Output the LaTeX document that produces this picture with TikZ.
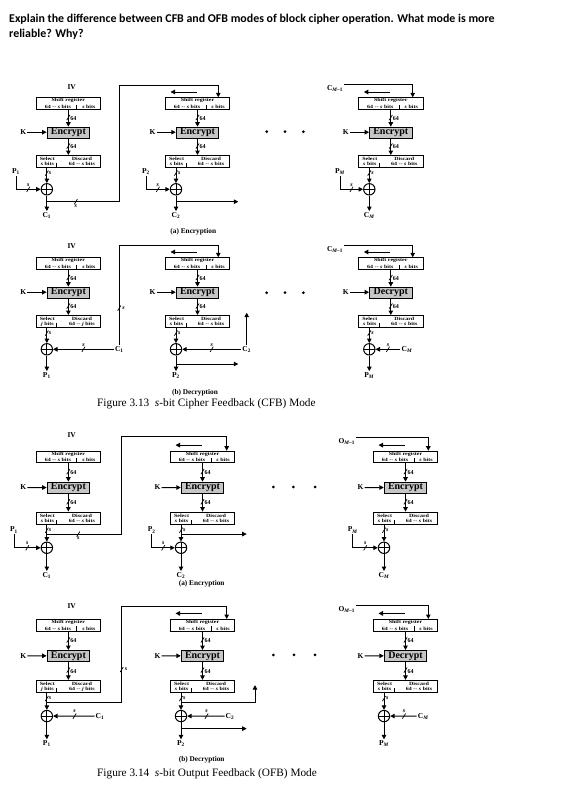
\documentclass[tikz,border=0pt]{standalone}
\usepackage{fontspec}
\setmainfont{Liberation Serif}
\newfontfamily\qfont{Carlito}
\newfontfamily\boxfont[FakeStretch=1.25]{Liberation Serif}
\usetikzlibrary{arrows.meta,positioning}

\tikzset{
  box/.style={draw, line width=1pt, anchor=north, inner sep=0pt},
  srbox/.style={box, minimum width=64.7pt, minimum height=11.7pt},
  selbox/.style={box, minimum width=64.7pt, minimum height=12.3pt},
  cipher/.style={box, fill=gray!45, minimum width=42.4pt, minimum height=11pt,
    font=\fontsize{10}{10}\selectfont\bfseries},
  boxtxt/.style={inner sep=0pt, align=center,
    font=\boxfont\bfseries\fontsize{4.8}{5.2}\selectfont},
  lab/.style={inner sep=1pt, font=\fontsize{7.5}{8}\selectfont\bfseries},
  wlab/.style={inner sep=0.6pt, font=\fontsize{6}{6}\selectfont\bfseries},
  subcap/.style={inner sep=0pt, font=\fontsize{7.3}{8}\selectfont\bfseries},
  figcap/.style={inner sep=0pt, font=\fontsize{11.3}{12}\selectfont},
  dotmark/.style={circle, fill, inner sep=0pt, minimum size=3pt},
  xor/.style={circle, draw, line width=1pt, minimum size=11.4pt, inner sep=0pt,
    path picture={\draw[line width=0.8pt]
      (path picture bounding box.north) -- (path picture bounding box.south)
      (path picture bounding box.west) -- (path picture bounding box.east);}},
  arr/.style={line width=1pt, -{Triangle[length=4.5pt,width=4.5pt]}},
  slash/.pic={\draw[line width=0.7pt,-] (-1.6,2.6) -- (1.6,-2.6);},
}

\newcommand\sublab[2]{#1\textsubscript{#2}}

% one stage: name, centre x, cipher, bit letter, output label
\newcommand\stage[5]{%
  \node[srbox] (#1-sr) at (#2,0) {};
  \draw[line width=0.6pt] ([xshift=8.3pt]#1-sr.south) -- ([xshift=8.3pt,yshift=5pt]#1-sr.south);
  \node[boxtxt] (#1-srt) at ([yshift=-3.2pt]#1-sr.north) {Shift register};
  \node[boxtxt] (#1-srl) at ([xshift=-10.5pt,yshift=3pt]#1-sr.south) {64 -- \textit{s} bits};
  \node[boxtxt] (#1-srr) at ([xshift=20.5pt,yshift=3pt]#1-sr.south) {\textit{s} bits};
  \node[cipher] (#1-enc) at (#2,29.4) {#3};
  \node[selbox] (#1-sel) at (#2,57.7) {};
  \draw[line width=0.6pt] ([xshift=-11.7pt]#1-sel.south) -- ([xshift=-11.7pt,yshift=5pt]#1-sel.south);
  \node[boxtxt] (#1-sl) at ([xshift=-21pt]#1-sel.center) {Select\\\textit{#4} bits};
  \node[boxtxt] (#1-sd) at ([xshift=13.5pt]#1-sel.center) {Discard\\64 -- \textit{#4} bits};
  \node[xor] (#1-x) at (#2-21.5,92) {};
  \node[lab] (#1-k) at (#2-45,34.9) {K};
  \node[lab] (#1-out) at (#2-21.5,118) {#5};
  \draw[arr] (#1-sr) -- (#1-enc) pic[pos=.45]{slash} node[pos=.45,wlab,anchor=west,xshift=1pt,yshift=-1pt]{64};
  \draw[arr] (#1-enc) -- (#1-sel) pic[pos=.45]{slash} node[pos=.45,wlab,anchor=west,xshift=1pt,yshift=-1pt]{64};
  \draw[arr] (#1-k) -- (#1-k -| #1-enc.west);
  \draw[arr] (#1-sel.south -| #1-x) -- (#1-x) pic[pos=.32]{slash} node[pos=.32,wlab,anchor=west,xshift=1pt]{\textit{s}};
  \draw[arr] (#1-x) -- (#1-out);
}

% arrow above a shift register
\newcommand\shiftarrow[2]{%
  \coordinate (#1-a) at (#2-1,-5.3);
  \coordinate (#1-b) at (#2-27,-5.3);
  \draw[arr] (#1-a) -- (#1-b);
}

\begin{document}
\begin{tikzpicture}[x=1pt,y=-1pt]
\useasboundingbox (0,0) rectangle (575,803);
\node[anchor=north west, align=left, inner sep=0pt,
  font=\qfont\bfseries\fontsize{11.9}{15.3}\selectfont] (question) at (9,13.5)
  {Explain the difference between CFB and OFB modes of block cipher operation. What mode is more\\reliable? Why?};

% Figure 3.13 (a)
\begin{scope}[shift={(36,97.3)}]
\stage{ea1}{32.35}{Encrypt}{s}{\sublab{C}{1}}
\stage{ea2}{161.5}{Encrypt}{s}{\sublab{C}{2}}
\stage{ea3}{354.8}{Encrypt}{s}{\sublab{C}{\textit{M}}}
\shiftarrow{ea2}{161.5}
\shiftarrow{ea3}{354.8}
\node[lab] (ea-iv) at (35.7,-10.6) {IV};
\node[lab] (ea1-in) at (-20,74.4) {\sublab{P}{1}};
\node[lab] (ea2-in) at (110,74.4) {\sublab{P}{2}};
\node[lab] (ea3-in) at (304,74.4) {\sublab{P}{\textit{M}}};
\foreach \i in {1,2,3}
  \draw[arr] (ea\i-in) |- (ea\i-x) pic[pos=.75]{slash} node[pos=.75,wlab,above=2pt]{\textit{s}};
\coordinate (ea-t1) at (10.85,104.4);
\coordinate (ea-up) at (83.3,-12.3);
\coordinate (ea2-fb) at (182.3,0);
\draw[arr] (ea-t1) -| (ea-up) pic[pos=.2]{slash} node[pos=.2,wlab,below=2pt]{\textit{s}} -| (ea2-fb);
\coordinate (ea2-t) at (140,104.4);
\coordinate (ea2-o) at (202.3,104.4);
\draw[arr] (ea2-t) -- (ea2-o);
\foreach \dx [count=\i] in {230.7,249,267.3}
  \node[dotmark] (ea-d\i) at (\dx,34.4) {};
\node[lab] (ea-cm) at (299,-9) {\sublab{C}{\textit{M}--1}};
\coordinate (ea3-fb) at (376.7,0);
\draw[arr] (ea-cm.north east) -| (ea3-fb);
\node[subcap] (ea-cap) at (157.3,134.4) {(a) Encryption};
\end{scope}

% Figure 3.13 (b)
\begin{scope}[shift={(36,257.3)}]
\stage{da1}{32.35}{Encrypt}{j}{\sublab{P}{1}}
\stage{da2}{161.5}{Encrypt}{s}{\sublab{P}{2}}
\stage{da3}{354.8}{Decrypt}{s}{\sublab{P}{\textit{M}}}
\shiftarrow{da2}{161.5}
\shiftarrow{da3}{354.8}
\node[lab] (da-iv) at (35.7,-11.3) {IV};
\node[lab] (da1-in) at (83.3,92) {\sublab{C}{1}};
\node[lab] (da2-in) at (210.7,92) {\sublab{C}{2}};
\node[lab] (da3-in) at (371,92) {\sublab{C}{\textit{M}}};
\foreach \i in {1,2,3}
  \draw[arr] (da\i-in) -- (da\i-x) pic[pos=.5]{slash} node[pos=.5,wlab,above=2pt]{\textit{s}};
\coordinate (da-up) at (83.3,-12.3);
\coordinate (da2-fb) at (182.3,0);
\draw[arr] (da1-in) -- (da-up) pic[pos=.37]{slash} node[pos=.37,wlab,right=2pt]{\textit{s}} -| (da2-fb);
\coordinate (da-c2up) at (210.7,55.4);
\draw[arr] (da2-in) -- (da-c2up);
\coordinate (da2-t) at (140,106.7);
\coordinate (da2-o) at (202.3,106.7);
\draw[arr] (da2-t) -- (da2-o);
\foreach \dx [count=\i] in {230.7,249,267.3}
  \node[dotmark] (da-d\i) at (\dx,35.4) {};
\node[lab] (da-cm) at (299,-8) {\sublab{C}{\textit{M}--1}};
\coordinate (da3-fb) at (376.7,0);
\draw[arr] (da-cm.north east) -| (da3-fb);
\node[subcap] (da-cap) at (159,135.4) {(b) Decryption};
\end{scope}
\node[figcap, anchor=west] (fig13) at (97,403.3) {Figure 3.13\enspace\textit{s}-bit Cipher Feedback (CFB) Mode};

% Figure 3.14 (a)
\begin{scope}[shift={(36,450.7)}, yscale=1.055]
\stage{eb1}{32.35}{Encrypt}{s}{\sublab{C}{1}}
\stage{eb2}{166.5}{Encrypt}{s}{\sublab{C}{2}}
\stage{eb3}{369.5}{Encrypt}{s}{\sublab{C}{\textit{M}}}
\shiftarrow{eb2}{166.5}
\shiftarrow{eb3}{369.5}
\node[lab] (eb-iv) at (35.7,-14.9) {IV};
\node[lab] (eb1-in) at (-22,75.2) {\sublab{P}{1}};
\node[lab] (eb2-in) at (115.7,75.2) {\sublab{P}{2}};
\node[lab] (eb3-in) at (316.7,75.2) {\sublab{P}{\textit{M}}};
\foreach \i in {1,2,3}
  \draw[arr] (eb\i-in) |- (eb\i-x) pic[pos=.75]{slash} node[pos=.75,wlab,above=2pt]{\textit{s}};
\coordinate (eb-t1) at (10.85,79);
\coordinate (eb-up) at (85.7,-13.3);
\coordinate (eb2-fb) at (190.7,0);
\draw[arr] (eb-t1) -| (eb-up) pic[pos=.21]{slash} node[pos=.21,wlab,below=2pt]{\textit{s}} -| (eb2-fb);
\coordinate (eb2-t) at (145,79);
\coordinate (eb2-o) at (210.7,79);
\draw[arr] (eb2-t) -- (eb2-o);
\foreach \dx [count=\i] in {237.3,257.3,279}
  \node[dotmark] (eb-d\i) at (\dx,34.4) {};
\node[lab] (eb-om) at (310.7,-8.5) {\sublab{O}{\textit{M}--1}};
\coordinate (eb3-fb) at (392.3,0);
\draw[arr] (eb-om.north east) -| (eb3-fb);
\node[subcap] (eb-cap) at (165.7,125.7) {(a) Encryption};
\end{scope}

% Figure 3.14 (b)
\begin{scope}[shift={(36,619)}, yscale=1.055]
\stage{db1}{32.35}{Encrypt}{j}{\sublab{P}{1}}
\stage{db2}{166.5}{Encrypt}{s}{\sublab{P}{2}}
\stage{db3}{369.5}{Decrypt}{s}{\sublab{P}{\textit{M}}}
\shiftarrow{db2}{166.5}
\shiftarrow{db3}{369.5}
\node[lab] (db-iv) at (35.7,-12.3) {IV};
\node[lab] (db1-in) at (64,92) {\sublab{C}{1}};
\node[lab] (db2-in) at (194,92) {\sublab{C}{2}};
\node[lab] (db3-in) at (387.3,92) {\sublab{C}{\textit{M}}};
\foreach \i in {1,2,3}
  \draw[arr] (db\i-in) -- (db\i-x) pic[pos=.48]{slash} node[pos=.48,wlab,above=2pt]{\textit{s}};
\coordinate (db-t1) at (10.85,78.9);
\coordinate (db-up) at (85.7,-12.3);
\coordinate (db2-fb) at (190.7,0);
\draw[arr] (db-t1) -| (db-up) pic[pos=.67]{slash} node[pos=.67,wlab,right=2pt]{\textit{s}} -| (db2-fb);
\coordinate (db2-t) at (145,78.9);
\coordinate (db2-u) at (219,62.6);
\draw[arr] (db2-t) -| (db2-u);
\coordinate (db2-t2) at (145,103.9);
\coordinate (db2-o) at (210.7,103.9);
\draw[arr] (db2-t2) -- (db2-o);
\foreach \dx [count=\i] in {237.3,258,279}
  \node[dotmark] (db-d\i) at (\dx,34.1) {};
\node[lab] (db-om) at (310.7,-9.2) {\sublab{O}{\textit{M}--1}};
\coordinate (db3-fb) at (392.3,0);
\draw[arr] (db-om.north east) -| (db3-fb);
\node[subcap] (db-cap) at (165.7,133.3) {(b) Decryption};
\end{scope}
\node[figcap, anchor=west] (fig14) at (97,774) {Figure 3.14\enspace\textit{s}-bit Output Feedback (OFB) Mode};
\end{tikzpicture}
\end{document}
